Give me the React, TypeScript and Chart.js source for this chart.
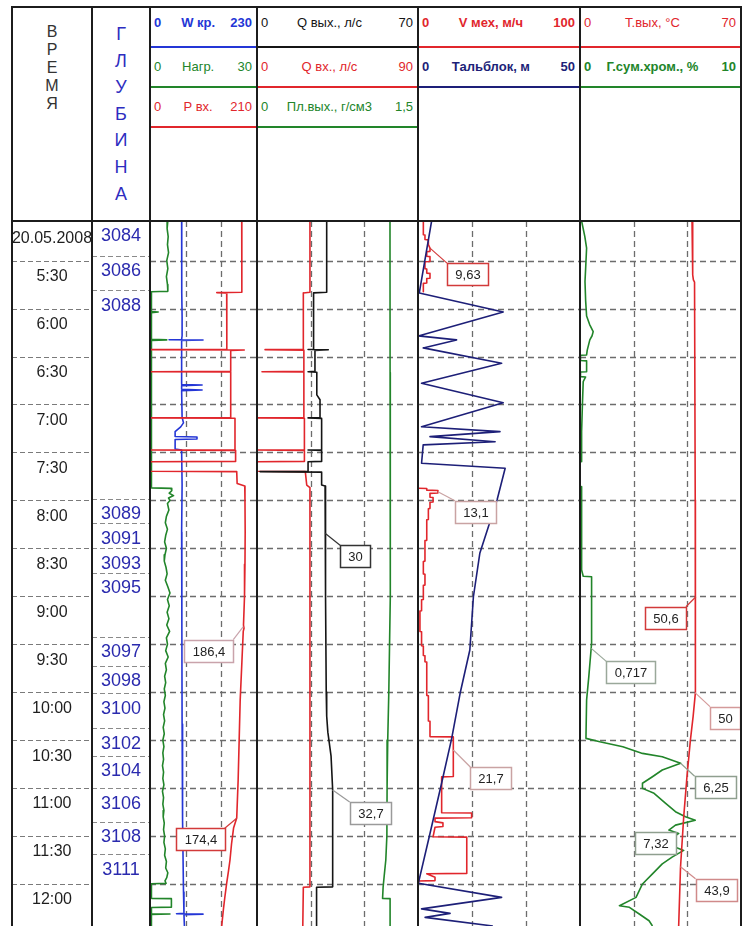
import React, { useEffect, useRef } from 'react';
import { Chart, registerables } from 'chart.js';

Chart.register(...registerables);

type Pt = [number, number]; // [time, minutes after midnight ; value]

// ---------------- time axis ----------------
const T_MIN = 305.2;
const T_MAX = 746.3;
const GRID_TIMES = [330, 360, 390, 420, 450, 480, 510, 540, 570, 600, 630, 660, 690, 720];
const TIME_LABELS = ['5:30', '6:00', '6:30', '7:00', '7:30', '8:00', '8:30', '9:00', '9:30', '10:00', '10:30', '11:00', '11:30', '12:00'];
const DATE_LABEL = '20.05.2008';

// ---------------- depth marks ----------------
const DEPTH_TIMES = [305.2, 326.9, 348.5, 479.1, 494.3, 510.0, 525.2, 565.3, 583.4, 600.7, 622.6, 639.8, 660.2, 681.1, 701.5];
const DEPTH_LABELS = ['3084', '3086', '3088', '3089', '3091', '3093', '3095', '3097', '3098', '3100', '3102', '3104', '3106', '3108', '3111'];

// ---------------- track 1 ----------------
const W_KR: Pt[] = [
  [305.2, 68], [330, 68.5], [350, 68], [365, 69], [377, 69], [379.3, 68], [379.5, 41], [379.7, 114], [380, 68],
  [395, 68], [407.5, 68], [407.8, 112], [408.2, 68], [410.5, 68], [410.9, 112], [411.3, 68], [428, 69],
  [431.5, 72], [434, 66], [437, 54], [440, 54], [440.3, 101], [441.6, 101], [441.9, 54], [447.8, 54],
  [448.5, 68], [470, 69], [500, 68], [560, 68.5], [620, 69], [680, 70], [725, 72], [738.3, 73],
  [738.6, 57], [738.9, 114], [739.2, 73], [746.3, 74],
];
const NAGR: Pt[] = [
  [305.2, 5.0], [310, 4.8], [315, 5.1], [320, 4.9], [325, 5.2], [330, 4.7], [335, 5.0], [340, 4.6], [345, 4.9],
  [349.2, 5.0], [349.5, 0.4], [361.8, 0.4], [362.1, 2.3], [362.5, 0.4], [379.2, 0.4], [379.6, 4.7], [379.9, 0.4],
  [472.2, 0.4], [472.5, 5.9], [474, 6.1], [475.5, 5.4], [477, 6.6], [478.5, 5.2], [480, 5.6],
  [482, 4.9], [486, 5.3], [490, 4.6], [494, 4.3], [498, 4.9], [502, 4.4], [506, 4.1], [510, 4.6], [514, 4.2],
  [518, 4.0], [522, 4.5], [526, 4.8], [530, 4.3], [534, 5.0], [538, 5.6], [542, 4.9], [546, 5.4], [550, 4.8],
  [554, 5.3], [558, 4.7], [562, 5.5], [566, 4.6], [570, 4.9], [574, 4.4], [578, 5.1], [582, 4.3], [586, 4.6],
  [590, 4.1], [594, 4.4], [598, 4.0], [602, 4.3], [606, 3.9], [610, 4.2], [614, 3.8], [618, 4.1], [622, 3.7],
  [626, 4.0], [630, 3.6], [634, 3.9], [638, 3.6], [642, 3.8], [646, 3.5], [650, 3.8], [654, 3.6], [658, 3.9],
  [662, 3.5], [666, 3.8], [670, 3.6], [674, 3.9], [678, 3.7], [682, 4.0], [686, 3.8], [690, 4.1], [694, 3.9],
  [698, 4.3], [702, 4.1], [706, 4.6], [710, 4.4], [713, 5.0], [716, 4.7], [718, 4.2], [719.6, 4.5],
  [719.9, 0.4], [729, 0.4], [729.2, 6.0], [734.5, 6.0], [734.7, 0.4], [738.6, 0.4], [738.8, 5.6], [739.0, 0.4], [746.3, 0.4],
];
const P_VH: Pt[] = [
  [305.2, 180], [330, 180.5], [349.8, 180], [350.0, 131], [350.3, 150.5], [370, 151], [385.5, 150.5],
  [385.7, 0], [385.9, 185], [386.2, 158.4], [399.3, 158.4], [399.5, 0], [399.7, 158.4], [428.2, 158.4],
  [428.4, 0], [428.6, 166.8], [448.3, 166.8], [448.5, 0], [448.7, 168], [455.6, 168], [455.8, 0], [461.8, 0],
  [462.0, 170.2], [469.5, 171], [470.4, 180], [471, 186], [479.8, 186.4], [500, 186.8], [520, 186.4],
  [540, 185.5], [558, 183.5], [560, 184.5], [562, 183], [580, 180.5], [605, 177], [630, 175], [655, 173],
  [678.8, 170.2], [685, 164], [695, 160], [705, 157], [712, 154], [719.4, 150.5], [728, 147], [736, 144], [746.3, 140.7],
];

// ---------------- track 2 ----------------
const Q_VYH: Pt[] = [
  [305.2, 30.3], [349.8, 30.3], [350.2, 24.6], [385.4, 24.6], [385.6, 22.2], [385.8, 31.0], [386.2, 25.2],
  [399.3, 25.2], [399.5, 22.2], [399.8, 26.0], [414, 26.0], [417, 27.4], [422, 27.4], [428.2, 27.4],
  [428.4, 22.2], [428.7, 28.1], [448.3, 28.1], [448.5, 22.2], [448.8, 28.1], [455.6, 28.1], [455.8, 22.2],
  [461.8, 22.2], [462.0, 1.3], [462.3, 28.1], [470.4, 28.1], [471, 29.6], [500.6, 29.7], [540, 29.9],
  [600, 30.1], [615, 30.3], [625, 30.8], [640, 32.2], [661.2, 32.9], [700, 32.9], [721.8, 32.9],
  [722.1, 25.9], [746.3, 25.9],
];
const Q_VH: Pt[] = [
  [305.2, 29.6], [349.8, 29.6], [350.2, 25.9], [385.5, 25.9], [385.7, 4.5], [386.0, 26.2], [399.3, 26.2],
  [399.5, 2.8], [399.7, 26.2], [428.2, 26.2], [428.4, 0], [428.6, 26.5], [448.3, 26.5], [448.5, 0],
  [448.7, 26.5], [455.6, 26.5], [455.8, 0], [461.8, 0], [462.0, 27.0], [470.4, 27.8], [472, 29.6],
  [721.8, 29.6], [722.1, 25.9], [746.3, 25.6],
];
const PL_VYH: Pt[] = [
  [305.2, 1.239], [400, 1.24], [470, 1.24], [500, 1.246], [540, 1.24], [570, 1.235], [600, 1.228],
  [630, 1.218], [660, 1.212], [690, 1.21], [705, 1.2], [715, 1.185], [722, 1.175], [729, 1.17],
  [729.2, 1.24], [746.3, 1.24],
];

// ---------------- track 3 ----------------
const TALBLOK: Pt[] = [
  [305.2, 4.2], [350.2, 0.4], [362.1, 26.3], [377.1, 0.1], [379.6, 11.9], [384.6, 1.6], [394.2, 25.8],
  [406.7, 1.1], [418.9, 26.3], [433.9, 1.1], [437.0, 25.3], [440.1, 3.7], [443.3, 23.8], [445.3, 1.6],
  [456.8, 1.1], [459.9, 26.9], [479.8, 24.4], [512.9, 19.1], [540.3, 17.1], [573.6, 16.0], [600.7, 13.0],
  [628.9, 10.4], [656.8, 7.3], [688.4, 3.7], [719.6, 0.1], [728.4, 25.8], [735.6, 1.1], [738.4, 9.9],
  [740.9, 2.2], [746.3, 23.1],
];
const V_MEH_1: Pt[] = [
  [305.2, 3.3], [313.8, 3.3], [314.0, 4.3], [316.8, 4.3], [317.0, 6.4], [320, 6.4], [322.2, 7.4], [324.2, 7.4],
  [324.4, 5.4], [327.3, 5.4], [327.5, 7.4], [330.5, 7.4], [330.7, 4.3], [335, 4.3], [335.2, 5.4], [337.8, 5.4],
  [338.0, 7.4], [341, 7.4], [341.2, 5.4], [344, 5.4], [344.2, 3.3], [349.4, 3.3],
];
const V_MEH_2: Pt[] = [
  [472.4, 0.2], [472.6, 5.4], [473.6, 5.4], [473.8, 12.3], [475.4, 12.3], [475.6, 7.4], [478, 7.4],
  [478.2, 9.3], [481, 9.3], [481.2, 7.4], [485, 7.4], [485.2, 6.4], [492, 6.4], [492.2, 5.4], [505, 5.4],
  [505.2, 4.3], [518, 4.3], [518.2, 3.3], [526, 3.3], [526.2, 4.3], [533, 4.3], [533.2, 3.3], [542, 3.3],
  [542.2, 2.2], [549, 2.2], [549.2, 1.2], [562, 1.2], [562.2, 2.2], [571, 2.2], [571.2, 3.3], [577, 3.3],
  [577.2, 4.3], [581, 4.3], [581.2, 5.4], [602, 5.4], [602.2, 6.4], [618, 6.4], [618.2, 7.4], [627.8, 7.4],
  [628.0, 21.8], [652.8, 21.8], [653.0, 14.6], [675.4, 14.6], [675.6, 33.1], [678.6, 33.1], [678.8, 10.5],
  [681, 10.5], [681.8, 15.4], [684, 15.4], [684.5, 10.5], [690.5, 9.3], [690.7, 30.1], [713.4, 30.1],
  [713.6, 5.4], [715.8, 10.5], [717.9, 10.5], [718.1, 0.2], [720, 0.2],
];

// ---------------- track 4 ----------------
const T_VYH: Pt[] = [
  [305.2, 48.7], [338.9, 49.0], [342, 49.3], [343.5, 49.8], [479.8, 50.1], [540.3, 50.4], [542, 50.2],
  [570, 50.1], [600.3, 50.0], [615, 49.2], [630, 48.0], [652.9, 46.5], [677.9, 45.1], [709.5, 43.7], [746.3, 42.9],
];
const G_SUM_1: Pt[] = [
  [305.2, 0.1], [315, 0.3], [322.1, 0.41], [335, 0.35], [343.1, 0.31], [355, 0.35], [364.6, 0.41], [370, 0.6],
  [374.4, 0.82], [377, 0.75], [379.6, 0.61], [386, 0.45], [389, 0.41], [389.2, 0.03], [392.5, 0.03],
  [392.7, 0.41], [399.5, 0.41], [399.7, 0.03], [402.6, 0.03], [402.8, 0.35], [405.7, 0.2], [420, 0.15],
  [437, 0.1], [455.8, 0.1],
];
const G_SUM_2: Pt[] = [
  [471.4, 0.1], [500, 0.1], [523.6, 0.1], [527.5, 0.2], [527.8, 0.72], [569.4, 0.72], [590, 0.55],
  [605, 0.41], [628.9, 0.37], [631, 1.23], [634.1, 2.66], [638.3, 3.88], [640.4, 5.11], [644.5, 6.25],
  [648.7, 5.11], [652.9, 4.5], [657, 3.88], [660.2, 3.88], [663.3, 4.6], [669.6, 5.32], [674.8, 5.93],
  [677.9, 6.55], [680.1, 7.16], [683.2, 5.93], [686.3, 5.52], [688.4, 6.13], [692.8, 5.52], [697, 5.93],
  [699, 6.44], [703.2, 5.72], [707.4, 5.11], [713.7, 4.5], [720, 3.88], [728.4, 3.48], [733.6, 2.45],
  [734.6, 3.07], [738.8, 3.68], [743, 4.29], [746.3, 4.5],
];

// ---------------- callouts (value labels) ----------------
const CALLOUT_TEXT = ['9,63', '13,1', '186,4', '174,4', '30', '32,7', '21,7', '50,6', '0,717', '50', '6,25', '7,32', '43,9'];
const CALLOUT_VALUE = [7.4, 12.3, 183.1, 170.2, 29.6, 32.9, 21.8, 50.4, 0.7, 50.0, 6.25, 6.26, 43.7];
const CALLOUT_TIME = [322.2, 474.6, 559.0, 678.9, 500.6, 661.2, 636.2, 540.3, 572.6, 600.3, 644.5, 695.6, 709.2];

// ---------------- styling / layout ----------------
const FONT = '"Liberation Sans", Arial, sans-serif';
const C = { red: '#e1262c', blue: '#2436d6', green: '#22852a', navy: '#1d1f78', black: '#151515' };
const COLS = [12, 92, 150, 257, 418, 580, 741];
const TOP = 7;
const BODY_TOP = 221;
const BODY_BOTTOM = 926;
const HEADER_ROW_Y = [23, 67, 107];
const HEADER_LINE_Y = [47, 87, 127];

const CALLOUT_LAYOUT = [
  { track: 2, axis: 'vm', dx: 17, dy: 15, align: 'left', color: '#d23a3a', line: true },
  { track: 2, axis: 'vm', dx: 17, dy: 9, align: 'left', color: '#c9a3a3', line: true },
  { track: 0, axis: 'pvh', dx: -10, dy: 13, align: 'right', color: '#c9a3ab', line: true },
  { track: 0, axis: 'pvh', dx: -12, dy: 10, align: 'right', color: '#d23a3a', line: true },
  { track: 1, axis: 'qout', dx: 15, dy: 12, align: 'left', color: '#333333', line: true },
  { track: 1, axis: 'qout', dx: 17, dy: 12, align: 'left', color: '#9a9a9a', line: true },
  { track: 2, axis: 'vm', dx: 17, dy: 17, align: 'left', color: '#c9a3a3', line: true },
  { track: 3, axis: 'tout', dx: -10, dy: 10, align: 'right', color: '#d23a3a', line: true },
  { track: 3, axis: 'gsum', dx: 15, dy: 13, align: 'left', color: '#9aa89a', line: true },
  { track: 3, axis: 'tout', dx: 15, dy: 14, align: 'left', color: '#d49a9a', line: true },
  { track: 3, axis: 'gsum', dx: 14, dy: 13, align: 'left', color: '#8f9f8f', line: true },
  { track: 3, axis: 'gsum', dx: -5, dy: -13, align: 'right', color: '#8f9f8f', line: false },
  { track: 3, axis: 'tout', dx: 15, dy: 12, align: 'left', color: '#d08a8a', line: true },
];

type Series = { data: Pt[]; axis: string; color: string };
type HeaderRow = { lo: string; name: string; hi: string; color: string; bold: boolean };
type Track = { axes: { id: string; min: number; max: number }[]; grid: string; series: Series[]; header: HeaderRow[] };

const TRACKS: Track[] = [
  {
    axes: [{ id: 'wkr', min: 0, max: 230 }, { id: 'nagr', min: 0, max: 30 }, { id: 'pvh', min: 0, max: 210 }],
    grid: 'wkr',
    series: [
      { data: P_VH, axis: 'pvh', color: C.red },
      { data: W_KR, axis: 'wkr', color: C.blue },
      { data: NAGR, axis: 'nagr', color: C.green },
    ],
    header: [
      { lo: '0', name: 'W кр.', hi: '230', color: C.blue, bold: true },
      { lo: '0', name: 'Нагр.', hi: '30', color: C.green, bold: false },
      { lo: '0', name: 'P вх.', hi: '210', color: C.red, bold: false },
    ],
  },
  {
    axes: [{ id: 'qout', min: 0, max: 70 }, { id: 'qin', min: 0, max: 90 }, { id: 'pl', min: 0, max: 1.5 }],
    grid: 'qout',
    series: [
      { data: Q_VYH, axis: 'qout', color: C.black },
      { data: Q_VH, axis: 'qin', color: C.red },
      { data: PL_VYH, axis: 'pl', color: C.green },
    ],
    header: [
      { lo: '0', name: 'Q вых., л/с', hi: '70', color: C.black, bold: false },
      { lo: '0', name: 'Q вх., л/с', hi: '90', color: C.red, bold: false },
      { lo: '0', name: 'Пл.вых., г/см3', hi: '1,5', color: C.green, bold: false },
    ],
  },
  {
    axes: [{ id: 'vm', min: 0, max: 100 }, { id: 'tal', min: 0, max: 50 }],
    grid: 'vm',
    series: [
      { data: TALBLOK, axis: 'tal', color: C.navy },
      { data: V_MEH_1, axis: 'vm', color: C.red },
      { data: V_MEH_2, axis: 'vm', color: C.red },
    ],
    header: [
      { lo: '0', name: 'V мех, м/ч', hi: '100', color: C.red, bold: true },
      { lo: '0', name: 'Тальблок, м', hi: '50', color: C.navy, bold: true },
    ],
  },
  {
    axes: [{ id: 'tout', min: 0, max: 70 }, { id: 'gsum', min: 0, max: 10 }],
    grid: 'tout',
    series: [
      { data: T_VYH, axis: 'tout', color: C.red },
      { data: G_SUM_1, axis: 'gsum', color: C.green },
      { data: G_SUM_2, axis: 'gsum', color: C.green },
    ],
    header: [
      { lo: '0', name: 'Т.вых, °С', hi: '70', color: C.red, bold: false },
      { lo: '0', name: 'Г.сум.хром., %', hi: '10', color: C.green, bold: true },
    ],
  },
];

// ---------------- plugins ----------------
const logGrid = {
  id: 'logGrid',
  beforeDatasetsDraw(chart: any, _a: any, opts: any) {
    const { ctx, chartArea: a } = chart;
    const ys = chart.scales.y;
    ctx.save();
    ctx.strokeStyle = '#6c6c6c';
    ctx.lineWidth = 1.3;
    ctx.setLineDash([6, 4]);
    for (const t of GRID_TIMES) {
      const y = Math.round(ys.getPixelForValue(t)) + 0.5;
      ctx.beginPath(); ctx.moveTo(a.left, y); ctx.lineTo(a.right, y); ctx.stroke();
    }
    if (opts && opts.xAxis) {
      const xs = chart.scales[opts.xAxis];
      for (const k of [1, 2]) {
        const x = Math.round(xs.getPixelForValue(xs.min + ((xs.max - xs.min) * k) / 3)) + 0.5;
        ctx.beginPath(); ctx.moveTo(x, a.top); ctx.lineTo(x, a.bottom); ctx.stroke();
      }
    }
    ctx.restore();
  },
};

const callouts = {
  id: 'callouts',
  afterDatasetsDraw(chart: any, _a: any, opts: any) {
    const { ctx } = chart;
    const ys = chart.scales.y;
    const items = (opts && opts.items) || [];
    ctx.save();
    ctx.font = `13px ${FONT}`;
    ctx.textAlign = 'center';
    ctx.textBaseline = 'middle';
    for (const c of items) {
      const xs = chart.scales[c.axis];
      const ax = xs.getPixelForValue(c.value);
      const ay = ys.getPixelForValue(c.time);
      const bx = ax + c.dx;
      const by = ay + c.dy;
      const w = Math.round(ctx.measureText(c.text).width + 16);
      const h = 22;
      const left = Math.round(c.align === 'right' ? bx - w : bx);
      const top = Math.round(by);
      if (c.line) {
        ctx.strokeStyle = c.color;
        ctx.lineWidth = 1.2;
        ctx.beginPath(); ctx.moveTo(ax, ay); ctx.lineTo(bx, by); ctx.stroke();
      }
      ctx.fillStyle = '#ffffff';
      ctx.fillRect(left, top, w, h);
      ctx.strokeStyle = c.color;
      ctx.lineWidth = 1.5;
      ctx.strokeRect(left + 0.5, top + 0.5, w, h);
      ctx.fillStyle = '#222222';
      ctx.fillText(c.text, left + w / 2 + 0.5, top + h / 2 + 1);
    }
    ctx.restore();
  },
};

const colLabels = {
  id: 'colLabels',
  afterDraw(chart: any, _a: any, opts: any) {
    const { ctx, chartArea: a } = chart;
    const ys = chart.scales.y;
    ctx.save();
    ctx.strokeStyle = opts.lineColor;
    ctx.lineWidth = 1.2;
    ctx.setLineDash([5, 3]);
    for (const t of opts.lines) {
      const y = Math.round(ys.getPixelForValue(t)) + 0.5;
      if (y < a.top + 2) continue;
      ctx.beginPath(); ctx.moveTo(a.left, y); ctx.lineTo(a.right, y); ctx.stroke();
    }
    ctx.setLineDash([]);
    ctx.fillStyle = opts.color;
    ctx.font = opts.font;
    ctx.textAlign = 'center';
    ctx.textBaseline = 'middle';
    const cx = (a.left + a.right) / 2;
    opts.labels.forEach((txt: string, i: number) => {
      ctx.fillText(txt, cx, ys.getPixelForValue(opts.times[i]) + opts.offset);
    });
    if (opts.extra) {
      ctx.font = opts.extra.font;
      const y = (ys.getPixelForValue(T_MIN) + ys.getPixelForValue(GRID_TIMES[0])) / 2 - 2;
      ctx.fillText(opts.extra.text, cx, y);
    }
    ctx.restore();
  },
};

const yScale = { type: 'linear', min: T_MIN, max: T_MAX, reverse: true, display: false };

function baseOptions(extraScales: any, pluginOpts: any) {
  return {
    animation: false,
    responsive: false,
    maintainAspectRatio: false,
    events: [],
    layout: { padding: 0 },
    scales: { y: yScale, ...extraScales },
    plugins: { legend: { display: false }, tooltip: { enabled: false }, ...pluginOpts },
  };
}

function trackChart(canvas: HTMLCanvasElement, track: Track, ti: number) {
  const scales: any = {};
  for (const ax of track.axes) scales[ax.id] = { type: 'linear', axis: 'x', position: 'bottom', min: ax.min, max: ax.max, display: false };
  const datasets = track.series.map((s) => ({
    data: s.data.map(([t, v]) => ({ x: v, y: t })),
    xAxisID: s.axis,
    yAxisID: 'y',
    showLine: true,
    borderColor: s.color,
    backgroundColor: s.color,
    borderWidth: 1.6,
    borderJoinStyle: 'round',
    pointRadius: 0,
    pointHoverRadius: 0,
    tension: 0,
    fill: false,
  }));
  const items = CALLOUT_LAYOUT.map((l, i) => ({ ...l, text: CALLOUT_TEXT[i], value: CALLOUT_VALUE[i], time: CALLOUT_TIME[i] })).filter((c) => c.track === ti);
  return new Chart(canvas, {
    type: 'scatter',
    data: { datasets },
    options: baseOptions(scales, { logGrid: { xAxis: track.grid }, callouts: { items } }) as any,
    plugins: [logGrid, callouts],
  } as any);
}

function columnChart(canvas: HTMLCanvasElement, opts: any) {
  return new Chart(canvas, {
    type: 'scatter',
    data: { datasets: [] },
    options: baseOptions({ x: { type: 'linear', min: 0, max: 1, display: false } }, { colLabels: opts }) as any,
    plugins: [colLabels],
  } as any);
}

const TIME_TITLE = 'ВРЕМЯ';
const DEPTH_TITLE = 'ГЛУБИНА';

export default function App() {
  const refs = useRef<(HTMLCanvasElement | null)[]>([]);

  useEffect(() => {
    const charts: Chart[] = [];
    const c0 = refs.current[0];
    const c1 = refs.current[1];
    if (c0)
      charts.push(
        columnChart(c0, {
          lines: GRID_TIMES, times: GRID_TIMES, labels: TIME_LABELS, offset: 16, color: '#1e1e1e',
          lineColor: '#7a7a7a', font: `16px ${FONT}`, extra: { text: DATE_LABEL, font: `16px ${FONT}` },
        })
      );
    if (c1)
      charts.push(
        columnChart(c1, {
          lines: DEPTH_TIMES, times: DEPTH_TIMES, labels: DEPTH_LABELS, offset: 15.5, color: '#2a2aae',
          lineColor: '#8a8a8a', font: `18px ${FONT}`,
        })
      );
    TRACKS.forEach((tr, i) => {
      const cv = refs.current[i + 2];
      if (cv) charts.push(trackChart(cv, tr, i));
    });
    return () => charts.forEach((c) => c.destroy());
  }, []);

  const bodyH = BODY_BOTTOM - BODY_TOP;
  const canvases = [];
  for (let i = 0; i < 6; i++) {
    const left = COLS[i];
    const w = COLS[i + 1] - COLS[i];
    canvases.push(
      <canvas
        key={`cv${i}`}
        ref={(el) => { refs.current[i] = el; }}
        width={w}
        height={bodyH}
        style={{ position: 'absolute', left, top: BODY_TOP, width: w, height: bodyH }}
      />
    );
  }

  const frame: React.ReactNode[] = [];
  const lineColor = '#1c1c1c';
  COLS.forEach((x, i) => {
    frame.push(<div key={`v${i}`} style={{ position: 'absolute', left: x - 1, top: TOP - 1, width: 2, height: BODY_BOTTOM - TOP + 1, background: lineColor }} />);
  });
  frame.push(<div key="htop" style={{ position: 'absolute', left: COLS[0] - 1, top: TOP - 1, width: COLS[6] - COLS[0] + 2, height: 2, background: lineColor }} />);
  frame.push(<div key="hbot" style={{ position: 'absolute', left: COLS[0] - 1, top: BODY_TOP - 1, width: COLS[6] - COLS[0] + 2, height: 2, background: lineColor }} />);

  const header: React.ReactNode[] = [];
  TIME_TITLE.split('').forEach((ch, i) => {
    header.push(
      <div key={`tt${i}`} style={{ position: 'absolute', left: COLS[0], width: COLS[1] - COLS[0], top: 32 + i * 18 - 10, height: 20, lineHeight: '20px', textAlign: 'center', fontFamily: FONT, fontSize: 16, color: '#333' }}>{ch}</div>
    );
  });
  DEPTH_TITLE.split('').forEach((ch, i) => {
    header.push(
      <div key={`dt${i}`} style={{ position: 'absolute', left: COLS[1], width: COLS[2] - COLS[1], top: 34 + i * 26.6 - 11, height: 22, lineHeight: '22px', textAlign: 'center', fontFamily: FONT, fontSize: 18, color: '#2d2dc0' }}>{ch}</div>
    );
  });
  TRACKS.forEach((tr, i) => {
    const left = COLS[i + 2];
    const right = COLS[i + 3];
    const w = right - left;
    tr.header.forEach((h, r) => {
      const cy = HEADER_ROW_Y[r];
      const base: React.CSSProperties = {
        position: 'absolute', top: cy - 8, height: 16, lineHeight: '16px', fontSize: 13, fontFamily: FONT,
        color: h.color, whiteSpace: 'nowrap', fontWeight: h.bold ? 700 : 400,
      };
      header.push(<div key={`lo${i}${r}`} style={{ ...base, left: left + 4 }}>{h.lo}</div>);
      header.push(<div key={`nm${i}${r}`} style={{ ...base, left: left + 0.45 * w - 60, width: 120, textAlign: 'center' }}>{h.name}</div>);
      header.push(<div key={`hi${i}${r}`} style={{ ...base, left: right - 65, width: 60, textAlign: 'right' }}>{h.hi}</div>);
      header.push(<div key={`ln${i}${r}`} style={{ position: 'absolute', left, width: w, top: HEADER_LINE_Y[r] - 1, height: 2, background: h.color }} />);
    });
  });

  return (
    <div style={{ position: 'absolute', left: 0, top: 0, width: 743, height: 926, overflow: 'hidden', background: '#fff' }}>
      {canvases}
      {header}
      {frame}
    </div>
  );
}
